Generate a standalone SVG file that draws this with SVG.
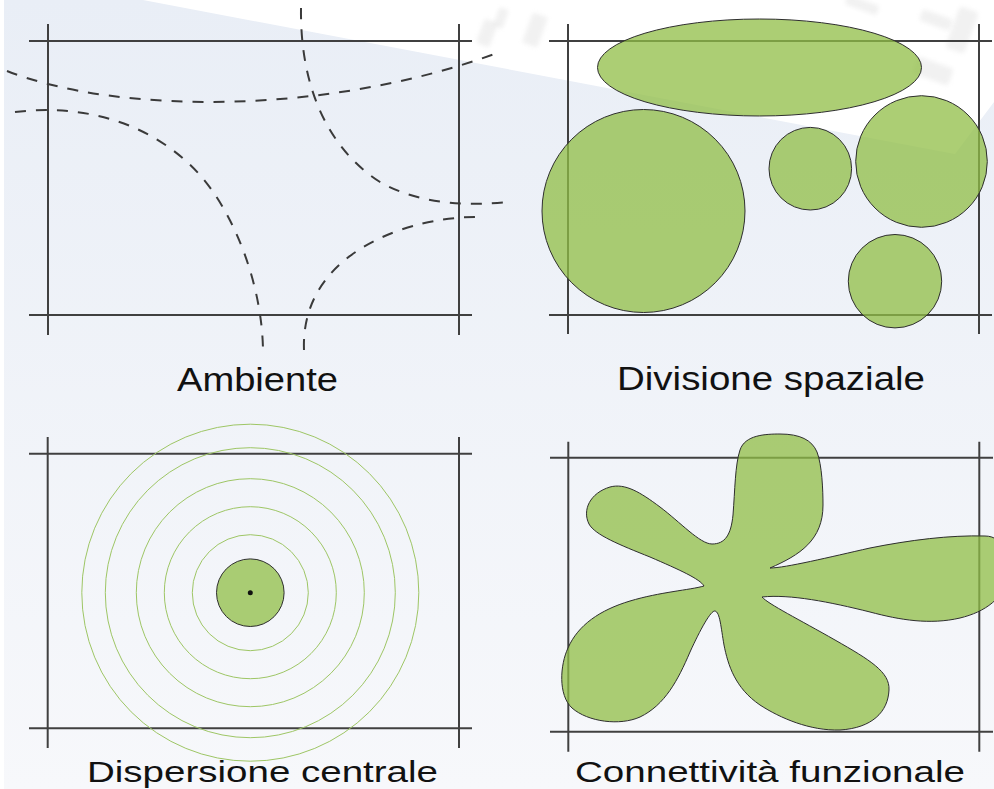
<svg xmlns="http://www.w3.org/2000/svg" width="994" height="789" viewBox="0 0 994 789">
  <defs>
    <linearGradient id="bg" x1="0" y1="0" x2="0" y2="1">
      <stop offset="0" stop-color="#e9eef6"/>
      <stop offset="1" stop-color="#f7f8fb"/>
    </linearGradient>
    <filter id="soft" x="-30%" y="-30%" width="160%" height="160%">
      <feGaussianBlur stdDeviation="2"/>
    </filter>
  </defs>
  <style>
    .frame { stroke: #404040; stroke-width: 2; fill: none; }
    .dash { stroke: #3a3a3a; stroke-width: 2; fill: none; stroke-dasharray: 11 10; }
    .blob { fill: #90bd45; fill-opacity: 0.75; stroke: #2e2e2e; stroke-width: 1; }
    .ring { fill: none; stroke: #9ec665; stroke-width: 1; }
    .label { font-family: "Liberation Sans", Arial, Helvetica, sans-serif; fill: #111; }
    .wm { fill: #d8d8d8; opacity: 0.35; filter: url(#soft); }
  </style>

  <!-- background -->
  <rect x="0" y="0" width="994" height="789" fill="#ffffff"/>
  <rect x="4" y="0" width="990" height="789" fill="url(#bg)"/>
  <polygon points="143,0 994,0 994,102 955,154" fill="#ffffff"/>

  <!-- faint watermark -->
  <g id="watermark">
    <rect class="wm" x="480" y="20" width="14" height="26" rx="3" transform="rotate(20 487 33)"/>
    <rect class="wm" x="496" y="8" width="10" height="20" rx="3" transform="rotate(20 501 18)"/>
    <rect class="wm" x="527" y="14" width="16" height="32" rx="3" transform="rotate(20 535 30)"/>
    <rect class="wm" x="845" y="0" width="34" height="10" rx="3" transform="rotate(20 862 5)"/>
    <rect class="wm" x="920" y="14" width="32" height="12" rx="3" transform="rotate(20 936 20)"/>
    <rect class="wm" x="952" y="8" width="20" height="44" rx="4" transform="rotate(20 962 30)"/>
    <rect class="wm" x="914" y="62" width="38" height="18" rx="4" transform="rotate(20 933 71)"/>
  </g>

  <!-- Panel 1: Ambiente -->
  <g id="ambiente">
    <line class="frame" x1="29" y1="41" x2="472" y2="41"/>
    <line class="frame" x1="29" y1="315" x2="472" y2="315"/>
    <line class="frame" x1="48" y1="24" x2="48" y2="335"/>
    <line class="frame" x1="459" y1="24" x2="459" y2="335"/>
    <g id="ambiente-curves">
      <path class="dash" d="M 7,71 C 120,115 330,115 500,52"/>
      <path class="dash" d="M 15,112 C 80,104 150,120 200,175 C 235,215 262,285 263,350"/>
      <path class="dash" d="M 301,8 C 300,90 330,150 380,182 C 420,205 470,206 508,202"/>
      <path class="dash" d="M 304,350 C 302,300 330,255 400,230 C 430,220 455,217 477,217"/>
    </g>
    <text class="label" x="177" y="391" font-size="34" textLength="161" lengthAdjust="spacingAndGlyphs">Ambiente</text>
  </g>

  <!-- Panel 2: Divisione spaziale -->
  <g id="divisione">
    <line class="frame" x1="549" y1="41" x2="992" y2="41"/>
    <line class="frame" x1="549" y1="315" x2="992" y2="315"/>
    <line class="frame" x1="568" y1="24" x2="568" y2="334"/>
    <line class="frame" x1="979" y1="24" x2="979" y2="334"/>
    <ellipse class="blob" cx="759.5" cy="67.5" rx="162" ry="48.5"/>
    <circle class="blob" cx="643.5" cy="211" r="101.5"/>
    <circle class="blob" cx="810.3" cy="168.7" r="41.3"/>
    <circle class="blob" cx="921.5" cy="161.5" r="65.8"/>
    <circle class="blob" cx="895" cy="281.2" r="46.7"/>
    <text class="label" x="617" y="390" font-size="34" textLength="308" lengthAdjust="spacingAndGlyphs">Divisione spaziale</text>
  </g>

  <!-- Panel 3: Dispersione centrale -->
  <g id="dispersione">
    <line class="frame" x1="29" y1="453.7" x2="472" y2="453.7"/>
    <line class="frame" x1="29" y1="728.3" x2="472" y2="728.3"/>
    <line class="frame" x1="47.7" y1="437" x2="47.7" y2="748"/>
    <line class="frame" x1="459" y1="437" x2="459" y2="748"/>
    <circle class="ring" cx="250.3" cy="592.7" r="58"/>
    <circle class="ring" cx="250.3" cy="592.7" r="86"/>
    <circle class="ring" cx="250.3" cy="592.7" r="114"/>
    <circle class="ring" cx="250.3" cy="592.7" r="145"/>
    <circle class="ring" cx="250.3" cy="592.7" r="168.5"/>
    <circle class="blob" cx="250.3" cy="592.7" r="33.8"/>
    <circle cx="250.3" cy="592.7" r="2.5" fill="#111"/>
    <text class="label" x="87" y="782" font-size="30" textLength="351" lengthAdjust="spacingAndGlyphs">Dispersione centrale</text>
  </g>

  <!-- Panel 4: Connettività funzionale -->
  <g id="connettivita">
    <line class="frame" x1="550" y1="457.7" x2="993" y2="457.7"/>
    <line class="frame" x1="550" y1="731.7" x2="993" y2="731.7"/>
    <line class="frame" x1="568.3" y1="441.7" x2="568.3" y2="751.7"/>
    <line class="frame" x1="979.3" y1="441.7" x2="979.3" y2="751.7"/>
    <path class="blob" d="M 712,544
      C 725,544 731,535 733,515
      C 735,490 735,465 740,450
      C 745,435 765,434 780,434
      C 800,434 812,440 817,452
      C 822,465 823,490 823,505
      C 823,540 800,555 770,568
      C 785,568 830,557 870,548
      C 910,540 950,535 985,536
      C 1005,536 1010,560 1008,575
      C 1005,598 985,612 960,618
      C 930,625 900,620 870,612
      C 830,602 790,594 762,597
      C 768,604 800,620 835,640
      C 870,660 890,672 889,690
      C 888,712 872,728 840,730
      C 810,731 780,718 760,705
      C 735,688 728,665 724,645
      C 721,628 720,612 715,611
      C 711,610 700,630 690,652
      C 678,680 665,705 640,717
      C 620,726 588,722 572,708
      C 558,695 560,665 568,648
      C 578,625 600,610 630,601
      C 660,592 690,590 704,586
      C 700,579 680,570 650,557
      C 620,545 595,535 589,524
      C 582,510 590,493 610,487
      C 625,483 640,492 660,507
      C 680,522 700,544 712,544 Z"/>
    <text class="label" x="575" y="782" font-size="30" textLength="390" lengthAdjust="spacingAndGlyphs">Connettività funzionale</text>
  </g>
</svg>
